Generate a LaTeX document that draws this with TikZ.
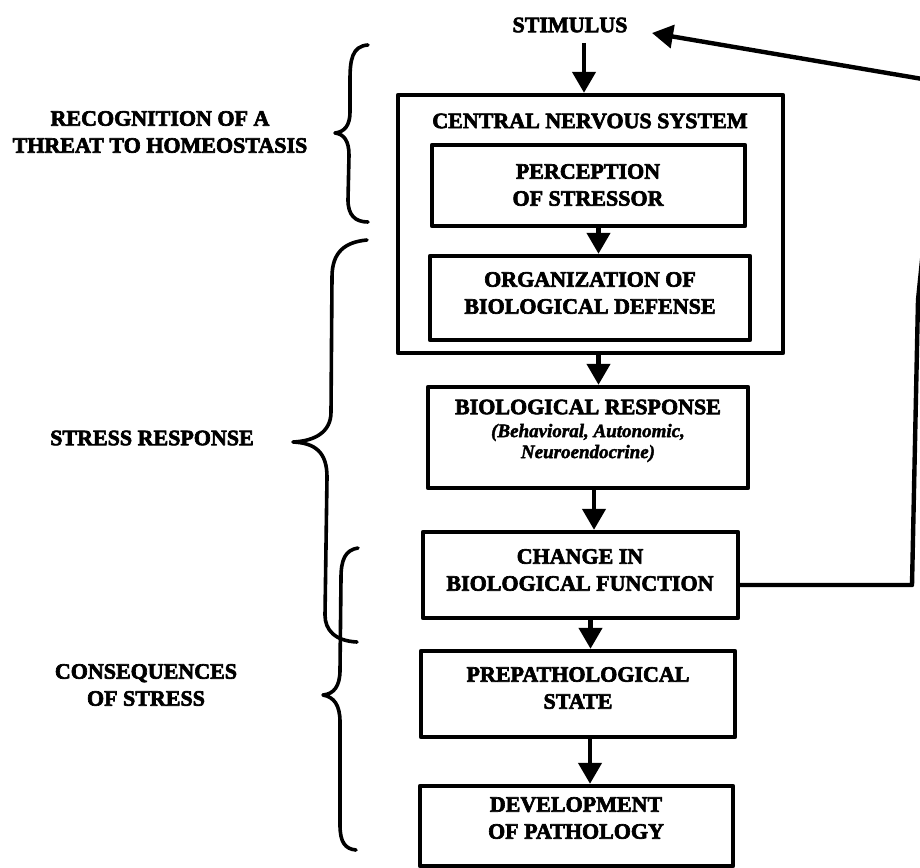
\documentclass[tikz,border=0pt]{standalone}
\usepackage{fontspec}
\setmainfont{Liberation Serif}[BoldFeatures={FakeBold=3},BoldItalicFeatures={FakeBold=2}]
\usetikzlibrary{arrows.meta}
\newcommand\smalltxt{\bfseries\itshape\fontsize{9.5}{10.5}\selectfont}
\begin{document}
\begin{tikzpicture}[x=0.5pt,y=-0.5pt,line join=round,
  box/.style={draw,line width=2.2pt,inner sep=0pt},
  lbl/.style={font=\bfseries\fontsize{11}{13.5}\selectfont,align=center,inner sep=0pt},
  flow/.style={line width=2.2pt,-{Triangle[width=11.5pt,length=10.5pt]}},
  brace/.style={line width=1.8pt,line cap=round}]
\useasboundingbox (0,0) rectangle (920,867);
\clip (0,0) rectangle (920,867);
\fill[white] (0,0) rectangle (920,867);

% boxes
\node[box,minimum width=192.5pt,minimum height=129pt] (cns) at (590.5,224) {};
\node[box,minimum width=156.5pt,minimum height=40.5pt] (perc) at (588.5,185.5) {};
\node[box,minimum width=160pt,minimum height=42pt] (org) at (590,298) {};
\node[box,minimum width=160pt,minimum height=50.5pt] (bio) at (588,437.5) {};
\node[box,minimum width=157.5pt,minimum height=43pt] (chg) at (580.5,575) {};
\node[box,minimum width=157pt,minimum height=43pt] (pre) at (578,694) {};
\node[box,minimum width=156.5pt,minimum height=40pt] (dev) at (576.5,826) {};

% texts
\node[lbl] (stim) at (570,25) {STIMULUS};
\node[lbl] (cnslbl) at (590,121) {CENTRAL NERVOUS SYSTEM};
\node[lbl] (perctxt) at (588,185) {PERCEPTION\\OF STRESSOR};
\node[lbl] (orgtxt) at (590,293) {ORGANIZATION OF\\BIOLOGICAL DEFENSE};
\node[lbl] (biotxt) at (588,407) {BIOLOGICAL RESPONSE};
\node[lbl,font=\smalltxt] (biosub) at (588,443) {(Behavioral, Autonomic,\\Neuroendocrine)};
\node[lbl] (chgtxt) at (580,570) {CHANGE IN\\BIOLOGICAL FUNCTION};
\node[lbl] (pretxt) at (578,688) {PREPATHOLOGICAL\\STATE};
\node[lbl] (devtxt) at (576,818) {DEVELOPMENT\\OF PATHOLOGY};

% connectors
\draw[flow] ([xshift=7pt,yshift=-5pt]stim.south) -- ([xshift=7pt]stim.south |- cns.north);
\draw[flow] ([xshift=5pt]perc.south) -- ([xshift=5pt]perc.south |- org.north);
\draw[flow] ([xshift=4pt]cns.south) -- ([xshift=4pt]cns.south |- bio.north);
\draw[flow] ([xshift=3pt]bio.south) -- ([xshift=3pt]bio.south |- chg.north);
\draw[flow] ([xshift=5pt]chg.south) -- ([xshift=5pt]chg.south |- pre.north);
\draw[flow] ([xshift=6pt]pre.south) -- ([xshift=6pt]pre.south |- dev.north);

% feedback (its upper part runs past the right edge, as in the reference)
\coordinate (fbtip) at (652,33);
\draw[flow] ([yshift=-5pt]chg.east) -- (912,585) -- (918,300) -- (940,82) -- (fbtip);

% braces
\draw[brace] (368,45) .. controls (352,46) and (350,60) .. (350,80) -- (350,112)
  .. controls (350,126) and (344,132) .. (335,133)
  .. controls (344,134) and (349,141) .. (349,155) -- (348,200)
  .. controls (348,215) and (355,222) .. (368,222);
\draw[brace] (367,240) .. controls (345,242) and (332,252) .. (332,277) -- (331,412)
  .. controls (331,432) and (315,441) .. (293,442)
  .. controls (315,443) and (327,452) .. (327,477) -- (325,615)
  .. controls (325,630) and (335,641) .. (357,642);
\draw[brace] (358,548) .. controls (345,550) and (341,560) .. (341,578) -- (340,670)
  .. controls (340,686) and (334,694) .. (323,695)
  .. controls (334,697) and (340,705) .. (340,722) -- (340,825)
  .. controls (340,842) and (345,849) .. (356,850);

% labels
\node[lbl] (recog) at (160,132) {RECOGNITION OF A\\THREAT TO HOMEOSTASIS};
\node[lbl] (sresp) at (152,438) {STRESS RESPONSE};
\node[lbl] (conseq) at (146,685) {CONSEQUENCES\\OF STRESS};
\end{tikzpicture}
\end{document}
